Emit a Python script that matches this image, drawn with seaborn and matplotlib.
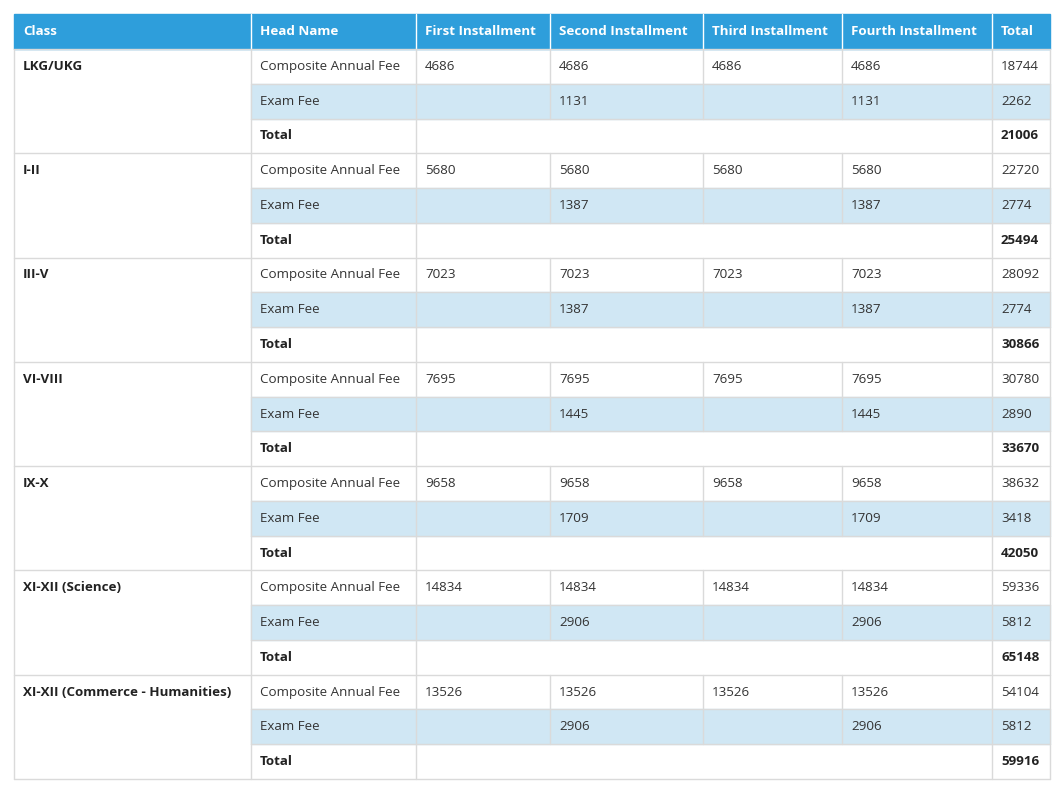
import matplotlib
matplotlib.use("Agg")
import matplotlib.pyplot as plt
import seaborn as sns

sns.set_theme(style="white")
plt.rcParams["font.family"] = "Open Sans"

headers = ["Class", "Head Name", "First Installment", "Second Installment",
           "Third Installment", "Fourth Installment", "Total"]
classes = ["LKG/UKG", "I-II", "III-V", "VI-VIII", "IX-X", "XI-XII (Science)",
           "XI-XII (Commerce - Humanities)"]
composite_fee = [4686, 5680, 7023, 7695, 9658, 14834, 13526]
composite_total = [18744, 22720, 28092, 30780, 38632, 59336, 54104]
exam_fee = [1131, 1387, 1387, 1445, 1709, 2906, 2906]
exam_total = [2262, 2774, 2774, 2890, 3418, 5812, 5812]
grand_total = [21006, 25494, 30866, 33670, 42050, 65148, 59916]

col_edges = [14, 251, 416, 550, 703, 842, 992, 1050]
top, header_h, bottom = 14, 35, 779
row_h = (bottom - top - header_h) / (3 * len(classes))

fig = plt.figure(figsize=(10.63, 7.90), dpi=100)
ax = fig.add_axes([0, 0, 1, 1])
ax.set_xlim(0, 1063)
ax.set_ylim(790, 0)
ax.axis("off")

blue = "#2E9EDB"
light = "#D0E7F4"
grid = "#DADADA"
fs = 9.6
pad = 9

# header
ax.add_patch(plt.Rectangle((col_edges[0], top), col_edges[-1] - col_edges[0], header_h,
                           color=blue, zorder=1))
for i, h in enumerate(headers):
    ax.text(col_edges[i] + pad, top + header_h / 2, h, color="white", fontweight="bold",
            fontsize=fs, va="center", ha="left", zorder=3)
    if i > 0:
        ax.plot([col_edges[i]] * 2, [top, top + header_h], color="white", lw=1, zorder=2)

y0 = top + header_h
for g, cls in enumerate(classes):
    ya = y0 + g * 3 * row_h
    r1, r2, r3 = ya, ya + row_h, ya + 2 * row_h
    # exam row bg
    ax.add_patch(plt.Rectangle((col_edges[1], r2), col_edges[-1] - col_edges[1], row_h,
                               color=light, zorder=1))
    ax.text(col_edges[0] + pad, r1 + row_h / 2, cls, fontweight="bold", fontsize=fs,
            va="center", color="#222222")
    ax.text(col_edges[1] + pad, r1 + row_h / 2, "Composite Annual Fee", fontsize=fs,
            va="center", color="#333333")
    for c in range(2, 6):
        ax.text(col_edges[c] + pad, r1 + row_h / 2, str(composite_fee[g]), fontsize=fs,
                va="center", color="#333333")
    ax.text(col_edges[6] + pad, r1 + row_h / 2, str(composite_total[g]), fontsize=fs,
            va="center", color="#333333")
    ax.text(col_edges[1] + pad, r2 + row_h / 2, "Exam Fee", fontsize=fs, va="center",
            color="#333333")
    for c in (3, 5):
        ax.text(col_edges[c] + pad, r2 + row_h / 2, str(exam_fee[g]), fontsize=fs,
                va="center", color="#333333")
    ax.text(col_edges[6] + pad, r2 + row_h / 2, str(exam_total[g]), fontsize=fs,
            va="center", color="#333333")
    ax.text(col_edges[1] + pad, r3 + row_h / 2, "Total", fontweight="bold", fontsize=fs,
            va="center", color="#222222")
    ax.text(col_edges[6] + pad, r3 + row_h / 2, str(grand_total[g]), fontweight="bold",
            fontsize=fs, va="center", color="#222222")
    # grid lines
    ax.plot([col_edges[0], col_edges[-1]], [ya, ya], color=grid, lw=1, zorder=2)
    ax.plot([col_edges[1], col_edges[-1]], [r2, r2], color=grid, lw=1, zorder=2)
    ax.plot([col_edges[1], col_edges[-1]], [r3, r3], color=grid, lw=1, zorder=2)
    for c in range(1, 8):
        ax.plot([col_edges[c]] * 2, [r1, r3], color=grid, lw=1, zorder=2)
    for c in (1, 2, 6, 7):
        ax.plot([col_edges[c]] * 2, [r3, r3 + row_h], color=grid, lw=1, zorder=2)
    ax.plot([col_edges[0]] * 2, [ya, ya + 3 * row_h], color=grid, lw=1, zorder=2)
ax.plot([col_edges[0], col_edges[-1]], [bottom, bottom], color=grid, lw=1, zorder=2)

fig.savefig("out.png", dpi=100, facecolor="white")
